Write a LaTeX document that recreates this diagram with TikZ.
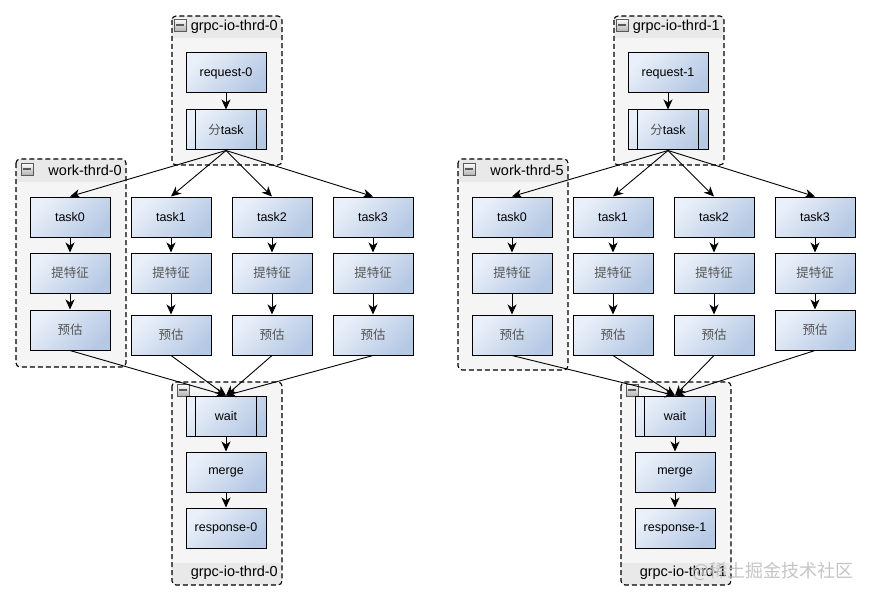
\documentclass[tikz,border=0pt]{standalone}
\usepackage{fontspec}
\setmainfont{Liberation Sans}
\newfontfamily\zhfont{Noto Sans CJK SC}
\usetikzlibrary{arrows.meta}
\definecolor{boxL}{RGB}{234,240,249}
\definecolor{boxR}{RGB}{182,201,228}
\definecolor{grpbg}{RGB}{245,245,245}
\definecolor{grpband}{RGB}{233,233,233}
\definecolor{zhgray}{RGB}{85,85,85}
\newcommand{\zh}[1]{{\zhfont\color{zhgray}#1}}
\newcommand\grpframe[6]{%
  \begin{scope}
    \clip[rounded corners=4pt] (#1,#2) rectangle (#3,#4);
    \fill[grpbg] (#1,#2) rectangle (#3,#4);
    \fill[grpband] (#1,#5) rectangle (#3,#6);
  \end{scope}
  \draw[grpline] (#1,#2) rectangle (#3,#4);
}
\begin{document}
\begin{tikzpicture}[x=1pt,y=-1pt,
  box/.style={draw=black, line width=1pt, rectangle, minimum width=80pt, minimum height=40pt,
    inner sep=0pt, top color=boxL, bottom color=boxR, shading angle=45,
    font=\fontsize{12.5}{14}\selectfont},
  grpline/.style={draw=black, line width=1.1pt, dash pattern=on 5pt off 3pt, rounded corners=4pt},
  grplabel/.style={anchor=east, inner sep=0pt, font=\fontsize{14.5}{16}\selectfont},
  arr/.style={-{Stealth[length=10pt,width=9pt,inset=3pt]}, line width=0.9pt},
  minusbox/.style={draw=black!65, line width=0.8pt, minimum size=12pt, inner sep=0pt,
    top color=white, bottom color=black!30,
    path picture={\draw[line width=2pt] ([xshift=-4pt]path picture bounding box.center) -- ([xshift=4pt]path picture bounding box.center);}},
  procline/.style={line width=1pt}
]
\useasboundingbox (0,0) rectangle (870,599);
\fill[white] (0,0) rectangle (870,599);

% ---------- group frames ----------
\grpframe{172}{16}{282}{165}{16}{38}
\grpframe{16}{159}{126}{367}{159}{182}
\grpframe{172}{382}{282}{585}{563}{585}
\grpframe{614}{16}{724}{165}{16}{38}
\grpframe{458}{159}{568}{370}{159}{182}
\grpframe{621}{382}{731}{585}{563}{585}

% group headers
\node[minusbox] (ma1) at (180,25) {};
\node[grplabel] (la1) at (278,27) {grpc-io-thrd-0};
\node[minusbox] (ma2) at (27,169) {};
\node[grplabel] (la2) at (122,170) {work-thrd-0};
\node[minusbox] (ma3) at (183,390) {};
\node[grplabel] (la3) at (278,573) {grpc-io-thrd-0};
\node[minusbox] (mb1) at (622,25) {};
\node[grplabel] (lb1) at (720,27) {grpc-io-thrd-1};
\node[minusbox] (mb2) at (469,169) {};
\node[grplabel] (lb2) at (564,170) {work-thrd-5};
\node[minusbox] (mb3) at (632,390) {};
\node[grplabel] (lb3) at (727,573) {grpc-io-thrd-1};

% ---------- left diagram ----------
\node[box] (a-req) at (226,73) {request-0};
\node[box] (a-ft) at (226,130) {\zh{分}task};
\draw[procline] ([xshift=10pt]a-ft.north west) -- ([xshift=10pt]a-ft.south west);
\draw[procline] ([xshift=-10pt]a-ft.north east) -- ([xshift=-10pt]a-ft.south east);
\node[box] (a-w) at (226,416) {wait};
\draw[procline] ([xshift=10pt]a-w.north west) -- ([xshift=10pt]a-w.south west);
\draw[procline] ([xshift=-10pt]a-w.north east) -- ([xshift=-10pt]a-w.south east);
\node[box] (a-m) at (226,472) {merge};
\node[box] (a-r) at (226,528) {response-0};
\draw[arr] (a-req) -- (a-ft);
\draw[arr] (a-w) -- (a-m);
\draw[arr] (a-m) -- (a-r);
\foreach \i/\x/\py in {0/70/330,1/171/335,2/272/335,3/373/335} {
  \node[box] (a-t\i) at (\x,217) {task\i};
  \node[box] (a-f\i) at (\x,273) {\zh{提特征}};
  \node[box] (a-p\i) at (\x,\py) {\zh{预估}};
  \draw[arr] (a-t\i) -- (a-f\i);
  \draw[arr] (a-f\i) -- (a-p\i);
  \draw[arr] (a-ft.south) -- (a-t\i.north);
  \draw[arr] (a-p\i.south) -- (a-w.north);
}

% ---------- right diagram ----------
\node[box] (b-req) at (668,73) {request-1};
\node[box] (b-ft) at (668,130) {\zh{分}task};
\draw[procline] ([xshift=10pt]b-ft.north west) -- ([xshift=10pt]b-ft.south west);
\draw[procline] ([xshift=-10pt]b-ft.north east) -- ([xshift=-10pt]b-ft.south east);
\node[box] (b-w) at (675,416) {wait};
\draw[procline] ([xshift=10pt]b-w.north west) -- ([xshift=10pt]b-w.south west);
\draw[procline] ([xshift=-10pt]b-w.north east) -- ([xshift=-10pt]b-w.south east);
\node[box] (b-m) at (675,472) {merge};
\node[box] (b-r) at (675,528) {response-1};
\draw[arr] (b-req) -- (b-ft);
\draw[arr] (b-w) -- (b-m);
\draw[arr] (b-m) -- (b-r);
\foreach \i/\x/\py in {0/512/335,1/613/335,2/714/335,3/815/330} {
  \node[box] (b-t\i) at (\x,217) {task\i};
  \node[box] (b-f\i) at (\x,273) {\zh{提特征}};
  \node[box] (b-p\i) at (\x,\py) {\zh{预估}};
  \draw[arr] (b-t\i) -- (b-f\i);
  \draw[arr] (b-f\i) -- (b-p\i);
  \draw[arr] (b-ft.south) -- (b-t\i.north);
  \draw[arr] (b-p\i.south) -- (b-w.north);
}

% watermark
\node[anchor=west, inner sep=0pt, text=black!25, opacity=0.9, font=\zhfont\fontsize{18}{20}\selectfont] (wm) at (692,571) {@稀土掘金技术社区};
\end{tikzpicture}
\end{document}
